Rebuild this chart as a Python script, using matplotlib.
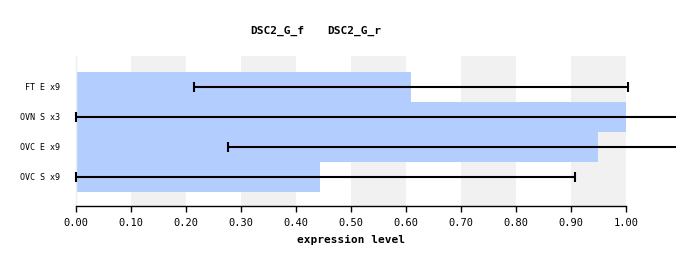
import matplotlib
matplotlib.use('Agg')
import matplotlib.pyplot as plt
import numpy as np

# data (bottom row first)
samples = ['OVC S x9', 'OVC E x9', 'OVN S x3', 'FT E x9']
values = [0.444, 0.949, 1.0, 0.609]
err_lo = [0.0, 0.276, 0.0, 0.215]
err_hi = [0.907, 1.10, 1.10, 1.004]
series = ['DSC2_G_f', 'DSC2_G_r']
xticks = [0.0, 0.1, 0.2, 0.3, 0.4, 0.5, 0.6, 0.7, 0.8, 0.9, 1.0]

plt.rcParams['font.family'] = ['DejaVu Sans Mono']

W, H = 676, 266
fig = plt.figure(figsize=(W / 100, H / 100), dpi=100)
ax = fig.add_axes([76 / W, 1 - 206 / H, 550 / W, 150 / H])

# alternating grey bands
for i in range(1, len(xticks) - 1, 2):
    ax.axvspan(xticks[i], xticks[i + 1], color='#f1f1f1', zorder=0, lw=0)

y = np.arange(len(samples))
ax.barh(y, values, height=1.0, color='#b3cdff', zorder=1, lw=0)

for yi, lo, hi in zip(y, err_lo, err_hi):
    ax.plot([lo, hi], [yi, yi], color='black', lw=1.5, zorder=3, clip_on=False,
            solid_capstyle='butt')
    for xe in (lo, hi):
        if xe <= 1.05:
            ax.plot([xe, xe], [yi - 0.17, yi + 0.17], color='black', lw=1.5,
                    zorder=3, clip_on=False, solid_capstyle='butt')

ax.set_xlim(0, 1)
ax.set_ylim(-0.967, 4.033)
ax.set_xticks(xticks)
ax.set_xticklabels(['%.2f' % t for t in xticks], fontsize=7.5)
ax.set_yticks(y)
ax.set_yticklabels(samples, fontsize=6)
ax.tick_params(axis='y', length=0, pad=11.5)
ax.tick_params(axis='x', length=4.3, width=1, direction='out', pad=4)

for s in ['top', 'right']:
    ax.spines[s].set_visible(False)
ax.spines['left'].set_color('#eeeeee')
ax.spines['left'].set_linewidth(1)
ax.spines['bottom'].set_linewidth(1)

ax.set_xlabel('expression level', fontsize=8, fontweight='bold', labelpad=5)

fig.text(250 / W, 1 - 31 / H, series[0], fontsize=8, fontweight='bold',
         va='center', ha='left')
fig.text(327 / W, 1 - 31 / H, series[1], fontsize=8, fontweight='bold',
         va='center', ha='left')

fig.savefig('out.png', dpi=100)
